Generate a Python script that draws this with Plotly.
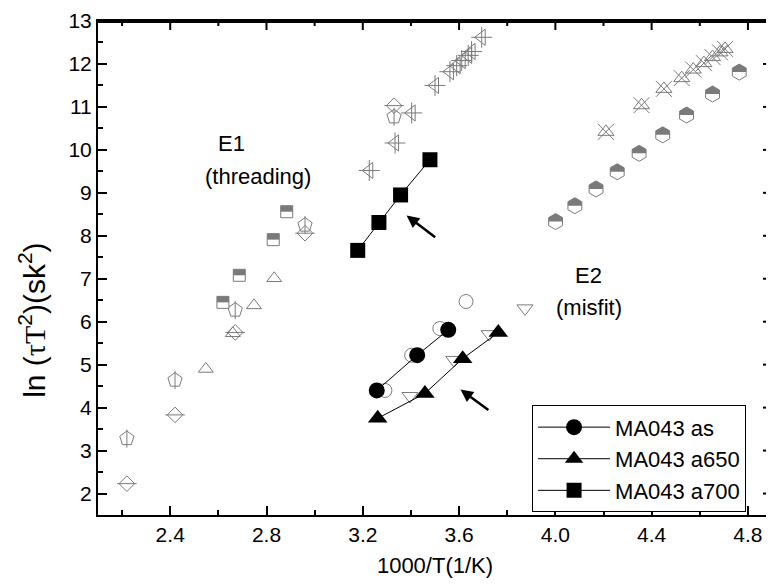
import plotly.graph_objects as go

# ---- Black series (this work) ----
as_x = [3.258, 3.426, 3.555]
as_y = [4.40, 5.22, 5.81]
a650_x = [3.262, 3.458, 3.615, 3.763]
a650_y = [3.75, 4.33, 5.14, 5.75]
a700_x = [3.179, 3.267, 3.357, 3.479]
a700_y = [7.66, 8.31, 8.95, 9.77]

# ---- Gray literature data ----
pent_x = [2.22, 2.42, 2.67, 2.96, 3.33]
pent_y = [3.28, 4.64, 6.27, 8.25, 10.77]
diam_x = [2.22, 2.42, 2.67, 2.96, 3.33]
diam_y = [2.23, 3.83, 5.75, 8.06, 11.03]
tri_x = [2.548, 2.66, 2.748, 2.832]
tri_y = [4.90, 5.73, 6.38, 7.01]
hsq_x = [2.619, 2.687, 2.828, 2.884]
hsq_y = [6.45, 7.08, 7.91, 8.56]
ltri_x = [3.227, 3.334, 3.403, 3.50, 3.562, 3.59, 3.611, 3.638, 3.652, 3.694]
ltri_y = [9.52, 10.16, 10.86, 11.50, 11.82, 11.96, 12.08, 12.20, 12.29, 12.62]
hex_x = [4.001, 4.081, 4.169, 4.257, 4.348, 4.446, 4.545, 4.653, 4.764]
hex_y = [8.33, 8.70, 9.09, 9.49, 9.92, 10.35, 10.81, 11.30, 11.81]
star_x = [4.21, 4.358, 4.451, 4.525, 4.573, 4.617, 4.653, 4.684, 4.705]
star_y = [10.42, 11.04, 11.42, 11.67, 11.87, 12.02, 12.16, 12.27, 12.35]
oc_x = [3.292, 3.403, 3.52, 3.629]
oc_y = [4.40, 5.22, 5.84, 6.47]
dtri_x = [3.396, 3.578, 3.725, 3.874]
dtri_y = [4.27, 5.11, 5.71, 6.31]

legend_names = ["MA043 as", "MA043 a650", "MA043 a700"]

# axis ticks
x_major = [2.4, 2.8, 3.2, 3.6, 4.0, 4.4, 4.8]
x_minor = [2.2, 2.6, 3.0, 3.4, 3.8, 4.2, 4.6]
y_major = [2, 3, 4, 5, 6, 7, 8, 9, 10, 11, 12, 13]
y_minor = [2.5, 3.5, 4.5, 5.5, 6.5, 7.5, 8.5, 9.5, 10.5, 11.5, 12.5]

GRAY = "#7a7a7a"
FONT = "Liberation Sans, Arial, sans-serif"
X_RANGE = [2.1, 4.9]
Y_RANGE = [1.5, 13]

fig = go.Figure()


def gray(x, y, symbol, size, **kw):
    m = dict(symbol=symbol, size=size, color=GRAY, line=dict(color=GRAY, width=1))
    m.update(kw)
    fig.add_trace(go.Scatter(x=x, y=y, mode="markers", marker=m,
                             showlegend=False, hoverinfo="skip"))


# half-filled marker: white body with gray outline, top half filled by a
# pixel-sized shape anchored at each data point
HALF_PATHS = {
    "square": "M-6,0 L-6,6 L6,6 L6,0 Z",
    "hexagon": "M-6.93,0 L-6.93,4 L0,8 L6.93,4 L6.93,0 Z",
}


def half(x, y, symbol, size):
    fig.add_trace(go.Scatter(x=x, y=y, mode="markers", showlegend=False,
                             hoverinfo="skip",
                             marker=dict(symbol=symbol, size=size, color="white",
                                         line=dict(color=GRAY, width=1))))
    for xi, yi in zip(x, y):
        fig.add_shape(type="path", path=HALF_PATHS[symbol], xref="x", yref="y",
                      xsizemode="pixel", ysizemode="pixel", xanchor=xi, yanchor=yi,
                      fillcolor=GRAY, line=dict(width=0), layer="above")


gray(pent_x, pent_y, "pentagon-open", 15)
gray(pent_x, pent_y, "line-ns-open", 13)
gray(diam_x, diam_y, "diamond-open", 12)
gray(diam_x, diam_y, "line-ew-open", 14)
gray(tri_x, tri_y, "triangle-up-open", 13)
half(hsq_x, hsq_y, "square", 12)
gray(ltri_x, ltri_y, "triangle-left-open", 14)
gray(ltri_x, ltri_y, "cross-thin-open", 15)
half(hex_x, hex_y, "hexagon", 16)
gray(star_x, star_y, "triangle-up-open", 14)
gray(star_x, star_y, "x-thin-open", 16)
gray(oc_x, oc_y, "circle-open", 14)
gray(dtri_x, dtri_y, "triangle-down-open", 14)

# black series
for xs, ys, sym, sz, name in [(as_x, as_y, "circle", 16, legend_names[0]),
                              (a650_x, a650_y, "triangle-up", 17, legend_names[1]),
                              (a700_x, a700_y, "square", 15, legend_names[2])]:
    fig.add_trace(go.Scatter(x=xs, y=ys, mode="lines+markers", name=name,
                             line=dict(color="black", width=1),
                             marker=dict(symbol=sym, size=sz, color="black")))

# top / right frame drawn as a trace along the axis range ends
fig.add_trace(go.Scatter(x=[X_RANGE[0], X_RANGE[1], X_RANGE[1]],
                         y=[Y_RANGE[1], Y_RANGE[1], Y_RANGE[0]],
                         mode="lines", line=dict(color="black", width=3),
                         cliponaxis=False, showlegend=False, hoverinfo="skip"))
# same frame, inset by one pixel, as shapes
fig.add_shape(type="line", xref="paper", yref="paper", ysizemode="pixel", yanchor=1,
              x0=0, x1=1, y0=-1, y1=-1, line=dict(color="black", width=2),
              layer="above")
fig.add_shape(type="line", xref="paper", yref="paper", xsizemode="pixel", xanchor=1,
              y0=0, y1=1, x0=-1, x1=-1, line=dict(color="black", width=2),
              layer="above")

# mirrored inside ticks on top and right
for vals, ln in [(x_major, 9), (x_minor, 5)]:
    for v in vals:
        fig.add_shape(type="line", xref="x", yref="paper", ysizemode="pixel",
                      yanchor=1, x0=v, x1=v, y0=0, y1=-ln,
                      line=dict(color="black", width=2), layer="above")
for vals, ln in [(y_major, 9), (y_minor, 5)]:
    for v in vals:
        fig.add_shape(type="line", xref="paper", yref="y", xsizemode="pixel",
                      xanchor=1, y0=v, y1=v, x0=0, x1=-ln,
                      line=dict(color="black", width=2), layer="above")

# arrows
for (hx, hy, tx, ty) in [(3.382, 8.47, 3.507, 7.94), (3.606, 4.42, 3.728, 3.92)]:
    fig.add_annotation(x=hx, y=hy, ax=tx, ay=ty, xref="x", yref="y",
                       axref="x", ayref="y", showarrow=True, arrowhead=2,
                       arrowsize=1, arrowwidth=2.5, arrowcolor="black", text="")

for (tx, ty, t) in [(2.655, 10.14, "E1"), (2.763, 9.38, "(threading)"),
                    (4.137, 7.07, "E2"), (4.14, 6.33, "(misfit)")]:
    fig.add_annotation(x=tx, y=ty, xref="x", yref="y", text=t, showarrow=False,
                       font=dict(size=22, color="black", family=FONT))

# y-axis title as rotated annotation
fig.add_annotation(xref="paper", yref="paper", x=-0.098, y=0.395,
                   xanchor="center", yanchor="middle", textangle=-90,
                   showarrow=False,
                   text="ln (<span style='font-family:Liberation Serif'>τT</span>"
                        "<sup>2</sup>)(sk<sup>2</sup>)",
                   font=dict(size=30, family=FONT, color="black"))

axis_common = dict(showline=True, linewidth=2, linecolor="black", mirror=True,
                   ticks="inside", ticklen=9, tickwidth=2, tickcolor="black",
                   showgrid=False, zeroline=False,
                   tickfont=dict(size=21, color="black", family=FONT))

fig.update_layout(
    xaxis=dict(range=X_RANGE, tickvals=x_major, ticktext=[f"{v:.1f}" for v in x_major],
               minor=dict(tickvals=x_minor, ticks="inside", ticklen=5, tickwidth=2,
                          tickcolor="black"),
               title=dict(text="1000/T(1/K)",
                          font=dict(size=22, family=FONT, color="black"), standoff=12),
               **axis_common),
    yaxis=dict(range=Y_RANGE, tickvals=y_major,
               minor=dict(tickvals=y_minor, ticks="inside", ticklen=5, tickwidth=2,
                          tickcolor="black"),
               **axis_common),
)

# page body has an 8px default margin: size the figure to fit the window
fig.update_layout(width=766, height=579,
                  margin=dict(l=90, r=2, t=13, b=72, autoexpand=False),
                  plot_bgcolor="white", paper_bgcolor="white",
                  font=dict(family=FONT, color="black"),
                  legend=dict(x=0.644, y=0.222, xanchor="left", yanchor="top",
                              bordercolor="black", borderwidth=1, bgcolor="white",
                              font=dict(size=22, family=FONT, color="black"),
                              tracegroupgap=0, itemwidth=72))

fig.write_html("out.html", config={"displayModeBar": False})
